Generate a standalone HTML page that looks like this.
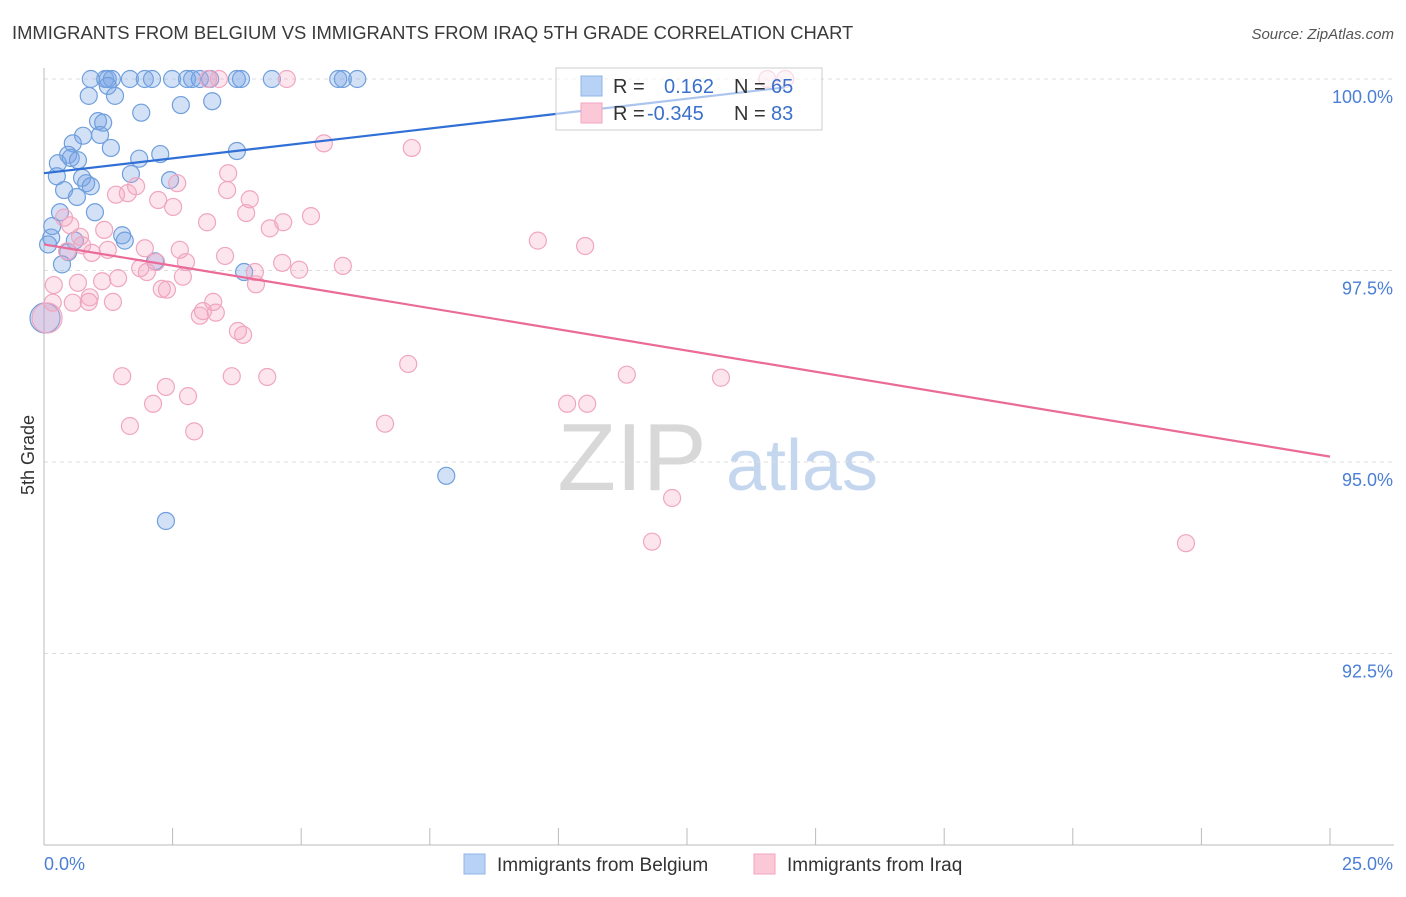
<!DOCTYPE html>
<html><head><meta charset="utf-8"><style>
body{margin:0;background:#fff;font-family:"Liberation Sans",sans-serif}
svg text{font-family:"Liberation Sans",sans-serif}
</style></head><body>
<svg id="c" width="1406" height="892" xmlns="http://www.w3.org/2000/svg">
<text x="12" y="39" font-size="18.4" fill="#3a3a3a">IMMIGRANTS FROM BELGIUM VS IMMIGRANTS FROM IRAQ 5TH GRADE CORRELATION CHART</text>
<text x="1394" y="39" font-size="15" fill="#555" font-style="italic" text-anchor="end">Source: ZipAtlas.com</text>
<text x="34" y="455" font-size="18" fill="#333" transform="rotate(-90 34 455)" text-anchor="middle">5th Grade</text>
<g>
<text x="632" y="490" font-size="96" fill="#d8d8d8" font-family="Liberation Serif" text-anchor="middle">ZIP</text>
<text x="802" y="490" font-size="72" fill="#c5d7ef" text-anchor="middle">atlas</text>
</g>
<g id="grid"></g><g id="axes"></g><g id="pts"></g><g id="trend"></g>
<g>
<rect x="556" y="68" width="266" height="62" fill="#fff" fill-opacity="0.6" stroke="#ccc"/>
<rect x="581" y="76" width="21" height="20" fill="#b8d2f5" stroke="#8fb4e8"/>
<rect x="581" y="103" width="21" height="20" fill="#fbc8d8" stroke="#f1a5bf"/>
<text x="613" y="93" font-size="20" fill="#333">R =</text>
<text x="664" y="93" font-size="20" fill="#3a70cc">0.162</text>
<text x="734" y="93" font-size="20" fill="#333">N =</text>
<text x="771" y="93" font-size="20" fill="#3a70cc">65</text>
<text x="613" y="120" font-size="20" fill="#333">R =</text>
<text x="647" y="120" font-size="20" fill="#3a70cc">-0.345</text>
<text x="734" y="120" font-size="20" fill="#333">N =</text>
<text x="771" y="120" font-size="20" fill="#3a70cc">83</text>
</g>
<g>
<rect x="464" y="854" width="21" height="20" fill="#b8d2f5" stroke="#8fb4e8"/>
<text x="497" y="871" font-size="19" fill="#333">Immigrants from Belgium</text>
<rect x="754" y="854" width="21" height="20" fill="#fbc8d8" stroke="#f1a5bf"/>
<text x="787" y="871" font-size="19" fill="#333">Immigrants from Iraq</text>
</g>
</svg>
<script>
const yTicks=[100,97.5,95,92.5];
const yTickLabels=["100.0%","97.5%","95.0%","92.5%"];
const xTickLabels=["0.0%","25.0%"];
const belgiumX=[0.91,1.19,1.24,1.32,1.67,1.96,2.10,2.49,2.78,2.88,3.03,3.23,3.75,3.83,4.43,5.72,5.81,6.09,1.24,0.87,1.38,2.66,3.27,1.89,1.05,1.15,1.09,1.30,0.76,0.56,0.47,0.52,0.66,0.27,1.85,2.26,3.75,0.25,0.74,0.82,0.91,0.39,0.64,1.69,2.45,0.99,0.31,0.16,0.14,0.08,1.52,1.57,0.60,0.47,0.35,2.16,3.89,0.02,7.82,2.37];
const belgiumY=[100,100,100,100,100,100,100,100,100,100,100,100,100,100,100,100,100,100,99.91,99.78,99.78,99.66,99.71,99.56,99.45,99.43,99.27,99.10,99.26,99.16,99.01,98.97,98.94,98.90,98.96,99.02,99.06,98.73,98.71,98.64,98.60,98.55,98.46,98.76,98.68,98.26,98.26,98.08,97.93,97.84,97.96,97.89,97.89,97.74,97.58,97.62,97.48,96.88,94.82,94.23];
const iraqX=[3.19,3.40,4.72,14.06,14.41,5.44,7.15,3.58,2.59,1.79,3.56,1.40,1.63,2.22,4.00,2.51,3.93,5.19,3.17,4.65,4.39,0.39,0.51,1.17,0.70,9.60,10.52,1.96,2.64,0.74,1.24,0.93,0.45,3.52,2.18,2.76,4.63,4.96,5.81,1.87,2.00,4.10,4.12,2.70,1.44,1.13,0.66,0.19,2.29,2.39,0.17,0.56,0.87,1.34,0.89,3.29,3.09,3.34,3.03,3.77,3.87,7.08,11.33,13.16,1.52,3.65,4.34,2.37,2.80,2.12,10.17,10.56,1.67,2.92,6.63,12.21,11.82,22.20,0.06];
const iraqY=[100,100,100,100,100,99.16,99.10,98.77,98.64,98.60,98.55,98.49,98.51,98.42,98.43,98.33,98.25,98.21,98.13,98.13,98.05,98.19,98.09,98.03,97.94,97.89,97.82,97.79,97.77,97.83,97.77,97.73,97.75,97.69,97.61,97.61,97.60,97.51,97.56,97.53,97.48,97.48,97.32,97.42,97.40,97.36,97.34,97.31,97.26,97.25,97.08,97.08,97.09,97.09,97.15,97.09,96.97,96.95,96.91,96.71,96.66,96.28,96.14,96.10,96.12,96.12,96.11,95.98,95.86,95.76,95.76,95.76,95.47,95.40,95.50,94.53,93.96,93.94,96.88];
const belgiumTrend=[0,98.77,14.4,99.89];
const iraqTrend=[0,97.84,25,95.07];
const NS="http://www.w3.org/2000/svg";
const X=v=>44+v/25*1286, Y=v=>79+(100-v)/2.5*191.5;
function mk(t,a,p){const e=document.createElementNS(NS,t);for(const k in a)e.setAttribute(k,a[k]);p.appendChild(e);return e;}
const grid=document.getElementById('grid'),axes=document.getElementById('axes');
yTicks.forEach((v,i)=>{
 const l=mk('line',{x1:44,x2:1394,y1:Y(v),y2:Y(v),stroke:'#ddd','stroke-dasharray':'4 4'},grid);
 
 
 const t=mk('text',{x:1393,y:Y(v)+24,'font-size':18,fill:'#4a7fd4','text-anchor':'end'},axes);
 t.textContent=yTickLabels[i];
 
 
});
const xa=mk('line',{x1:44,x2:1394,y1:845,y2:845,stroke:'#bbb'},axes);


const ya=mk('line',{x1:44,x2:44,y1:68,y2:845,stroke:'#bbb'},axes);


for(let i=1;i<=10;i++){const tk=mk('line',{x1:X(i*2.5),x2:X(i*2.5),y1:828,y2:845,stroke:'#bbb'},axes);
 
 }
const t0=mk('text',{x:44,y:870,'font-size':18,fill:'#4a7fd4'},axes);t0.textContent=xTickLabels[0];


const t1=mk('text',{x:1393,y:870,'font-size':18,fill:'#4a7fd4','text-anchor':'end'},axes);t1.textContent=xTickLabels[1];


const pts=document.getElementById('pts');
function series(xs,ys,fill,stroke,name){xs.forEach((x,i)=>{
 const r=(x<0.1&&ys[i]<97)?15:8.5;
 const c=mk('circle',{cx:X(x),cy:Y(ys[i]),r:r,fill:fill,stroke:stroke,'stroke-width':1.2},pts);
 
 
});}
series(belgiumX,belgiumY,'rgba(120,165,230,0.33)','#6f9fdc','point-belgium');
series(iraqX,iraqY,'rgba(244,160,190,0.28)','#f0a6c0','point-iraq');
const tr=document.getElementById('trend');
const bl=mk('line',{x1:X(belgiumTrend[0]),y1:Y(belgiumTrend[1]),x2:X(belgiumTrend[2]),y2:Y(belgiumTrend[3]),stroke:'#2f6fd6','stroke-width':2.2},tr);


const il=mk('line',{x1:X(iraqTrend[0]),y1:Y(iraqTrend[1]),x2:X(iraqTrend[2]),y2:Y(iraqTrend[3]),stroke:'#ea6a98','stroke-width':2.2},tr);


</script>
</body></html>
